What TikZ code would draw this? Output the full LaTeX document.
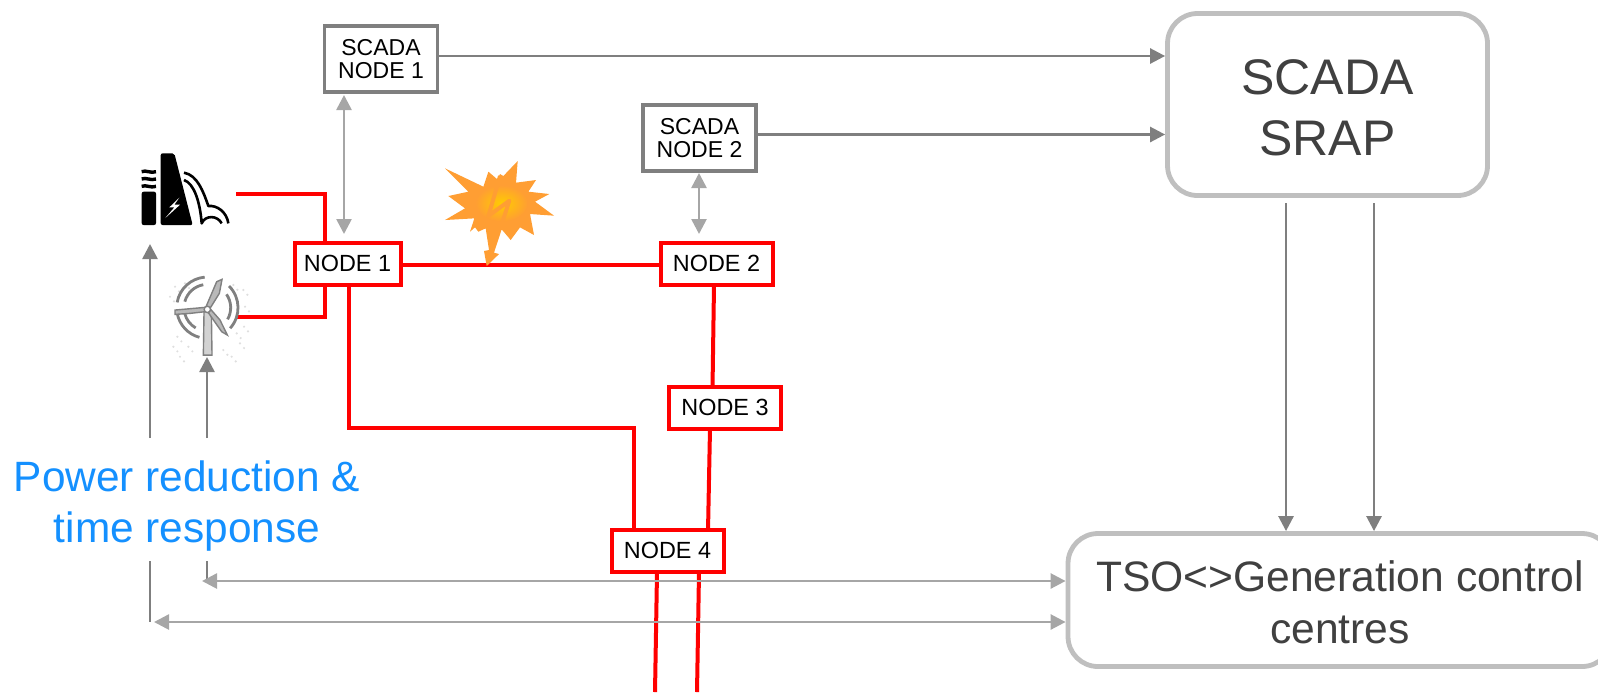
\documentclass[tikz,border=0pt]{standalone}
\usepackage{fontspec}
\setmainfont{Liberation Sans}
\usetikzlibrary{arrows.meta,positioning}
\definecolor{linkred}{RGB}{255,0,0}
\definecolor{darkgraylink}{RGB}{127,127,127}
\definecolor{lightgraylink}{RGB}{166,166,166}
\definecolor{boxgray}{RGB}{191,191,191}
\definecolor{boxtext}{RGB}{64,64,64}
\definecolor{powerblue}{RGB}{20,144,255}
\definecolor{flashorange}{RGB}{255,158,51}
\definecolor{flashyellow}{RGB}{255,204,0}
\tikzset{
  gridnode/.style={draw=linkred,line width=2pt,fill=white,inner sep=0pt,
    minimum width=56pt,minimum height=21pt,font=\fontsize{11.7}{12}\selectfont},
  scadanode/.style={draw=darkgraylink,line width=1.8pt,fill=white,inner sep=0pt,align=center,
    minimum width=56.5pt,minimum height=33pt,font=\fontsize{11.5}{11.6}\selectfont},
  centrebox/.style={draw=boxgray,line width=2.4pt,fill=white,rounded corners=15pt,inner sep=0pt,
    align=center,text=boxtext},
  redlink/.style={draw=linkred,line width=2pt},
  grayarrow/.style={draw=darkgraylink,line width=1.3pt,-{Triangle[length=7.5pt,width=7.5pt]}},
  graydouble/.style={draw=lightgraylink,line width=1.3pt,
    {Triangle[length=7.5pt,width=7.5pt]}-{Triangle[length=7.5pt,width=7.5pt]}},
  graystem/.style={draw=darkgraylink,line width=1.3pt}
}
\begin{document}
\begin{tikzpicture}[x=0.5pt,y=-0.5pt]
  \useasboundingbox (0,0) rectangle (1598,692);

  % nodes
  \node[gridnode,minimum width=53pt] (node1) at (347.5,263.5) {NODE 1};
  \node[gridnode] (node2) at (716.5,263.5) {NODE 2};
  \node[gridnode] (node3) at (725,407.5) {NODE 3};
  \node[gridnode] (node4) at (667.5,550.5) {NODE 4};
  \node[scadanode] (scada1) at (381,59) {SCADA\\NODE 1};
  \node[scadanode] (scada2) at (699.5,138) {SCADA\\NODE 2};
  \node[centrebox,minimum width=160pt,minimum height=91pt,font=\fontsize{25}{30.5}\selectfont] (srap) at (1327.5,104.5) {\rule{0pt}{21pt}SCADA\\SRAP};
  \node[centrebox,minimum width=272pt,minimum height=66.5pt,font=\fontsize{21.3}{26}\selectfont] (tso) at (1340,600) {\rule{0pt}{18pt}TSO<>Generation control\\centres};
  \node[align=center,inner sep=0pt,text=powerblue,font=\fontsize{21.2}{25.5}\selectfont] (power) at (187,506) {Power reduction \&\\time response};

  % free ends
  \coordinate (hydroend) at (236,194);
  \coordinate (hydroknee) at (325,194);
  \coordinate (windend) at (236,317);
  \coordinate (windknee) at (325,317);
  \coordinate (faultline) at (480,265);
  \coordinate (node1drop) at (349,428);
  \coordinate (node4rise) at (634,428);
  \coordinate (node2out) at (714,285);
  \coordinate (node3in) at (712.5,388);
  \coordinate (node3out) at (710,428);
  \coordinate (node4in) at (708,531);
  \coordinate (node4a) at (657,572);
  \coordinate (node4b) at (699,572);
  \coordinate (node4outa) at (655,692);
  \coordinate (node4outb) at (697,692);
  \coordinate (scada1out) at (438,56);
  \coordinate (scada2out) at (757,134.5);
  \coordinate (scada1low) at (344,95);
  \coordinate (node1high) at (344,234);
  \coordinate (scada2low) at (699,173);
  \coordinate (node2high) at (699,234);
  \coordinate (hydrotip) at (150,244);
  \coordinate (windtip) at (207,357);
  \coordinate (hydrofoot) at (150,438);
  \coordinate (windfoot) at (207,438);
  \coordinate (hydrostem) at (150,561);
  \coordinate (windstem) at (207,561);
  \coordinate (hydrolow) at (150,622);
  \coordinate (windlow) at (207,581);
  \coordinate (hydroarrow) at (154,622);
  \coordinate (windarrow) at (202,581);
  \coordinate (srapa) at (1286,203);
  \coordinate (srapb) at (1374,203);

  % red lines
  \draw[redlink] (hydroend) -- (hydroknee) -- (hydroknee |- node1.north);
  \draw[redlink] (windend) -- (windknee) -- (windknee |- node1.south);
  \draw[redlink] (faultline -| node1.east) -- (faultline -| node2.west);
  \draw[redlink] (node1drop |- node1.south) -- (node1drop) -- (node4rise) -- (node4rise |- node4.north);
  \draw[redlink] (node2out) -- (node3in);
  \draw[redlink] (node3out) -- (node4in);
  \draw[redlink] (node4a) -- (node4outa);
  \draw[redlink] (node4b) -- (node4outb);

  % gray arrows
  \draw[grayarrow] (scada1out) -- (scada1out -| srap.west);
  \draw[grayarrow] (scada2out) -- (scada2out -| srap.west);
  \draw[grayarrow] (srapa) -- (srapa |- tso.north);
  \draw[grayarrow] (srapb) -- (srapb |- tso.north);
  \draw[grayarrow] (hydrofoot) -- (hydrotip);
  \draw[grayarrow] (windfoot) -- (windtip);
  \draw[graystem] (hydrostem) -- (hydrolow);
  \draw[graystem] (windstem) -- (windlow);
  \draw[graydouble] (windarrow) -- (tso.west |- windarrow);
  \draw[graydouble] (hydroarrow) -- (tso.west |- hydroarrow);
  \draw[graydouble] (scada1low) -- (node1high);
  \draw[graydouble] (scada2low) -- (node2high);

  % hydro plant
  \begin{scope}[shift={(120,130)},x=0.1667pt,y=-0.1667pt]
    \fill[rounded corners=1pt] (65,185) rectangle (108,285);
    \foreach \yy in {125,147,169} {
      \draw[line width=1.7pt] (65,\yy) .. controls (78,\yy-6) and (92,\yy+6) .. (108,\yy);
    }
    \fill[rounded corners=1pt] (122,285) -- (122,70) -- (163,70) -- (218,285) -- cycle;
    \fill[white] (178,203) -- (148,232) -- (163,232) -- (136,264) -- (180,224) -- (163,224) -- cycle;
    \draw[line width=1.3pt,line join=round] (192,128) .. controls (232,135) and (250,185) .. (265,228)
      .. controls (290,225) and (320,245) .. (325,280);
    \draw[line width=1.3pt,line join=round] (192,150) .. controls (222,160) and (240,215) .. (245,280)
      .. controls (255,255) and (292,255) .. (305,280);
  \end{scope}

  % wind turbine
  \begin{scope}[shift={(120,130)},x=0.1667pt,y=-0.1667pt]
    \foreach \xx/\yy in {165/470,195/460,340/465,370/480,375/530,372/590,360/640,335/680,180/680,160/650,172/620,350/610,310/660,205/650,150/500} {
      \fill[gray!25] (\xx,\yy) circle (0.6pt);
      \fill[gray!25] (\xx+12,\yy+14) circle (0.6pt);
    }
    \draw[gray,line width=1.4pt] (262,533) ++(-95:92) arc (-95:-170:92);
    \draw[gray,line width=1.4pt] (262,533) ++(-190:92) arc (-190:-255:92);
    \draw[gray,line width=1.4pt] (262,533) ++(-100:70) arc (-100:-165:70);
    \draw[gray,line width=1.4pt] (262,533) ++(-195:70) arc (-195:-240:70);
    \draw[gray,line width=1.4pt] (262,533) ++(42:92) arc (42:-45:92);
    \draw[gray,line width=1.4pt] (262,533) ++(30:70) arc (30:-35:70);
    \fill[gray!35,draw=gray,line width=0.7pt] (252,545) -- (274,545) -- (276,675) -- (250,675) -- cycle;
    \fill[gray!55,draw=gray,line width=0.7pt] (258,530) -- (290,455) -- (306,448) -- (298,490) -- (270,535) -- cycle;
    \fill[gray!55,draw=gray,line width=0.7pt] (255,532) -- (165,540) -- (165,553) -- (210,550) -- (255,545) -- cycle;
    \fill[gray!55,draw=gray,line width=0.7pt] (272,538) -- (300,570) -- (322,615) -- (305,605) -- (265,548) -- cycle;
    \fill[white,draw=gray,line width=0.7pt] (262,538) circle (1.6pt);
  \end{scope}

  % fault flash
  \begin{scope}[shift={(420,140)},x=0.1667pt,y=-0.1667pt]
    \fill[flashorange] (75,85) -- (190,140) -- (205,95) -- (232,118) -- (240,102) -- (250,108) -- (293,63) -- (288,128)
      -- (348,120) -- (325,155) -- (388,162) -- (345,185) -- (402,227) -- (330,222) -- (342,285) -- (300,262)
      -- (272,300) -- (245,268) -- (222,338) -- (237,342) -- (200,378) -- (192,333) -- (207,330) -- (197,265)
      -- (175,275) -- (165,262) -- (150,275) -- (163,235) -- (75,240) -- (135,205) -- (85,168) -- (145,155) -- cycle;
    \shade[inner color=flashyellow,outer color=flashorange] (245,190) ellipse (13pt and 9pt);
    \draw[flashorange,line width=2pt,line join=round] (240,108) -- (205,228) -- (268,182) -- (240,268);
  \end{scope}
\end{tikzpicture}
\end{document}
